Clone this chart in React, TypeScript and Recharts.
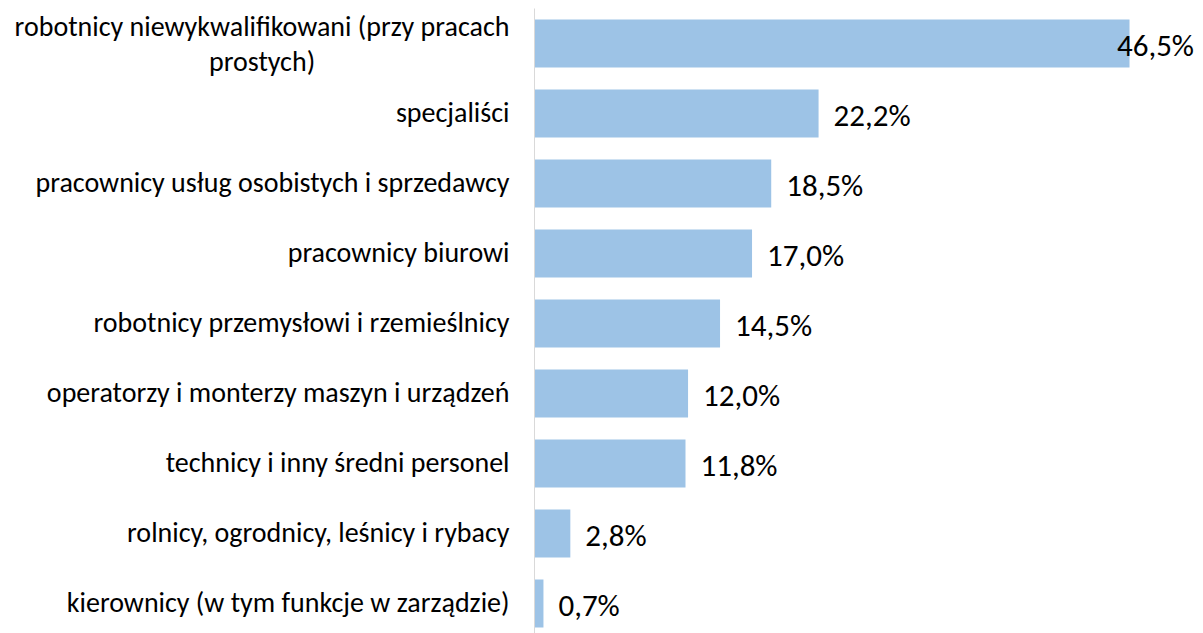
import React from 'react';
import { BarChart, Bar, XAxis, YAxis, LabelList } from 'recharts';

const categories = [
  'robotnicy niewykwalifikowani (przy pracach prostych)',
  'specjaliści',
  'pracownicy usług osobistych i sprzedawcy',
  'pracownicy biurowi',
  'robotnicy przemysłowi i rzemieślnicy',
  'operatorzy i monterzy maszyn i urządzeń',
  'technicy i inny średni personel',
  'rolnicy, ogrodnicy, leśnicy i rybacy',
  'kierownicy (w tym funkcje w zarządzie)',
];
const shares = [46.5, 22.2, 18.5, 17.0, 14.5, 12.0, 11.8, 2.8, 0.7];
// the one label Excel wrapped onto two lines
const wrappedLabels: Record<string, string[]> = {
  [categories[0]]: ['robotnicy niewykwalifikowani (przy pracach', 'prostych)'],
};

const chartData = categories.map((name, i) => ({ name, value: shares[i] }));

const FONT = 'Carlito, Calibri, Lato, sans-serif';
const CAT_SIZE = 28;
const VAL_SIZE = 31;
const WIDTH = 1203;

let ctx: CanvasRenderingContext2D | null = null;
const measure = (text: string, size: number) => {
  if (!ctx) ctx = document.createElement('canvas').getContext('2d');
  if (!ctx) return text.length * size * 0.5;
  ctx.font = `${size}px ${FONT}`;
  return ctx.measureText(text).width;
};

const CategoryTick = ({ x, y, payload }: any) => {
  const lines = wrappedLabels[payload.value];
  if (lines) {
    const blockW = Math.max(...lines.map((l) => measure(l, CAT_SIZE)));
    const cx = x - blockW / 2;
    const step = 35;
    return (
      <text x={cx} y={y} textAnchor="middle" fontFamily={FONT} fontSize={CAT_SIZE} fill="#000">
        {lines.map((l, i) => (
          <tspan key={i} x={cx} y={y + (i - (lines.length - 1) / 2) * step} dominantBaseline="central">
            {l}
          </tspan>
        ))}
      </text>
    );
  }
  return (
    <text x={x} y={y - 1} textAnchor="end" dominantBaseline="central" fontFamily={FONT} fontSize={CAT_SIZE} fill="#000">
      {payload.value}
    </text>
  );
};

const ValueLabel = ({ x, y, width, height, value }: any) => {
  const txt = value.toFixed(1).replace('.', ',') + '%';
  const w = measure(txt, VAL_SIZE);
  const lx = Math.min(x + width + 15, WIDTH - 9 - w);
  return (
    <text x={lx} y={y + height / 2 + 1.5} textAnchor="start" dominantBaseline="central" fontFamily={FONT} fontSize={VAL_SIZE} fill="#000">
      {txt}
    </text>
  );
};

export default function App() {
  return (
    <div style={{ position: 'fixed', left: 0, top: 0, width: WIDTH, height: 633, overflow: 'hidden', background: '#fff' }}>
      <BarChart
        width={WIDTH}
        height={650}
        data={chartData}
        layout="vertical"
        margin={{ top: 8.5, right: 28.7, bottom: 11.5, left: 0 }}
        barSize={48}
      >
        <XAxis type="number" domain={[0, 50]} hide />
        <YAxis
          type="category"
          dataKey="name"
          width={534.5}
          axisLine={{ stroke: '#D9D9D9', strokeWidth: 1 }}
          tickLine={false}
          tickSize={0}
          tickMargin={25}
          tick={<CategoryTick />}
          interval={0}
        />
        <Bar dataKey="value" fill="#9DC3E6" isAnimationActive={false}>
          <LabelList dataKey="value" content={<ValueLabel />} />
        </Bar>
      </BarChart>
    </div>
  );
}
